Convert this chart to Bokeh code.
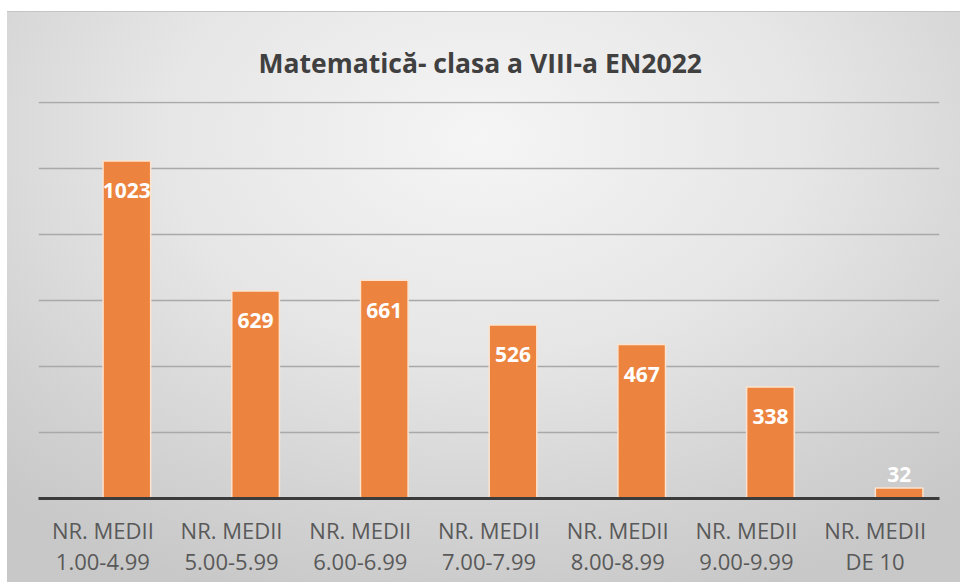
from bokeh.plotting import figure
from bokeh.models import ColumnDataSource, LabelSet, Range1d, FixedTicker
from bokeh.core.properties import value
from bokeh.transform import dodge
from bokeh.embed import file_html
from bokeh.resources import INLINE

# ---- data ----
categories = ["NR. MEDII\n1.00-4.99", "NR. MEDII\n5.00-5.99", "NR. MEDII\n6.00-6.99",
              "NR. MEDII\n7.00-7.99", "NR. MEDII\n8.00-8.99", "NR. MEDII\n9.00-9.99",
              "NR. MEDII\nDE 10"]
values = [1023, 629, 661, 526, 467, 338, 32]
title_text = "Matematică- clasa a VIII-a EN2022"
y_ticks = [0, 200, 400, 600, 800, 1000, 1200]

xpos = list(range(len(categories)))
labels = [str(v) for v in values]
offsets = [-30 if v > 100 else 13 for v in values]

src = ColumnDataSource(dict(x=xpos, val=values, lab=labels, off=offsets))

p = figure(width=953, height=571, x_range=Range1d(-0.5, 6.5),
           y_range=Range1d(0, 1203), output_backend="svg", toolbar_location=None,
           min_border_left=31, min_border_right=21, min_border_top=89, min_border_bottom=85)

p.styles = {"background-image": "radial-gradient(ellipse 75% 85% at 50% 22%, #f5f5f5 0%, #e6e6e6 45%, #d2d2d2 80%, #c8c8c8 100%)",
            "border-top": "1px solid #c4c4c4",
            "margin": "11px 0 0 7px"}
p.background_fill_color = None
p.border_fill_color = None
p.outline_line_color = None

p.title.text = title_text
p.title.align = "left"
p.title.text_font = "Open Sans"
p.title.text_font_size = "26.5px"
p.title.text_font_style = "bold"
p.title.text_color = "#404040"
p.title.standoff = 41
p.title.offset = 220

bar_x = dodge("x", 0.1865)
p.vbar(x=bar_x, top="val", width=0.37, source=src, fill_color="#EC8440",
       line_color="#FBE3CF", line_width=1.5)

p.add_layout(LabelSet(x=bar_x, y="val", text="lab", y_offset="off", source=src,
                      text_color="white", text_font=value("Open Sans"), text_font_size=value("21px"),
                      text_font_style="bold", text_align="center", text_baseline="middle"))

p.yaxis.visible = False
p.xgrid.grid_line_color = None
p.ygrid.ticker = FixedTicker(ticks=y_ticks)
p.ygrid.grid_line_color = "#a9a9a9"
p.ygrid.grid_line_width = 1.5

p.xaxis.ticker = FixedTicker(ticks=xpos)
p.xaxis.major_label_overrides = {i: c for i, c in zip(xpos, categories)}
p.xaxis.axis_line_color = "#3b3b3b"
p.xaxis.axis_line_width = 3
p.xaxis.major_tick_line_color = None
p.xaxis.minor_tick_line_color = None
p.xaxis.major_label_text_font = "Open Sans"
p.xaxis.major_label_text_font_size = "22px"
p.xaxis.major_label_text_color = "#595959"
p.xaxis.major_label_text_line_height = 1.04
p.xaxis.major_label_standoff = 10

open("out.html", "w").write(file_html(p, INLINE))
